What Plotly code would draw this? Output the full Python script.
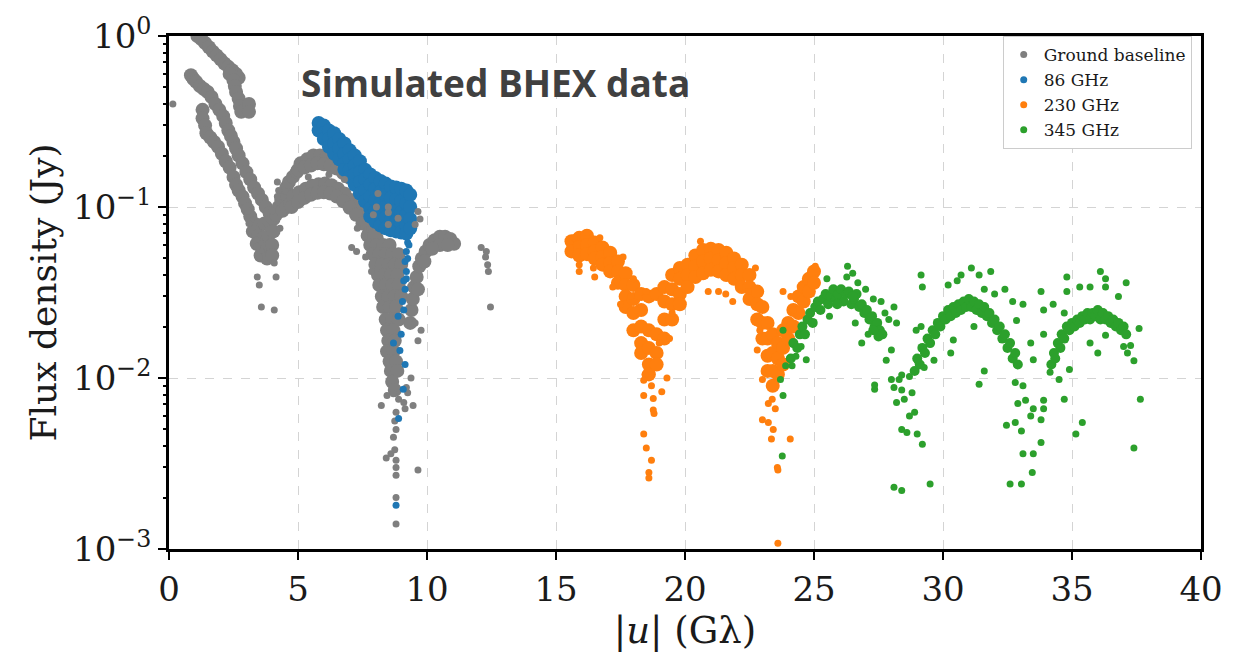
import plotly.graph_objects as go

# ---------------- data (|u| in Gλ, flux density in Jy) ----------------
ground_dense = [
    # upper branch
    (1.1, 1.0), (1.25, 0.96), (1.4, 0.91), (1.55, 0.86), (1.7, 0.81), (1.85, 0.77), (2.0, 0.73),
    (2.15, 0.69), (2.3, 0.66), (2.45, 0.63), (2.6, 0.6), (2.7, 0.57), (2.35, 0.6), (2.5, 0.55),
    (2.55, 0.51), (2.6, 0.47), (2.7, 0.43), (2.75, 0.39), (2.8, 0.36), (3.1, 0.4), (3.1, 0.36),
    # middle branch
    (0.85, 0.59), (0.95, 0.56), (1.05, 0.54), (1.2, 0.51), (1.35, 0.49), (1.5, 0.47), (1.65, 0.44),
    (1.8, 0.4), (1.95, 0.37), (2.1, 0.34), (2.2, 0.31), (2.3, 0.28), (2.4, 0.26), (2.5, 0.24),
    (2.6, 0.22), (2.7, 0.2), (2.85, 0.18), (3.0, 0.16), (3.15, 0.145), (3.3, 0.13), (3.45, 0.12),
    (3.6, 0.11), (3.75, 0.1), (3.9, 0.092),
    # lower branch
    (1.3, 0.37), (1.3, 0.33), (1.4, 0.3), (1.45, 0.27), (1.6, 0.255), (1.75, 0.24), (1.9, 0.225),
    (2.05, 0.205), (2.2, 0.185), (2.35, 0.17), (2.5, 0.15), (2.6, 0.135), (2.7, 0.125),
    (2.85, 0.115), (2.95, 0.105), (3.05, 0.097),
    # first minimum
    (3.15, 0.088), (3.3, 0.08), (3.5, 0.078), (3.7, 0.08), (3.9, 0.082), (4.05, 0.085),
    (3.25, 0.072), (3.45, 0.068), (3.65, 0.066), (3.85, 0.068), (4.05, 0.072), (3.4, 0.061),
    (3.6, 0.058), (3.8, 0.057), (4.0, 0.06), (3.55, 0.052), (3.8, 0.05), (4.0, 0.052),
    # rising arm
    (4.15, 0.09), (4.25, 0.1), (4.35, 0.11), (4.45, 0.12), (4.55, 0.13), (4.65, 0.14), (4.8, 0.15),
    (4.95, 0.16), (4.4, 0.095), (4.55, 0.1), (4.7, 0.105),
    # second lobe, upper band
    (5.1, 0.18), (5.35, 0.19), (5.6, 0.2), (5.85, 0.2), (6.1, 0.195), (6.35, 0.19), (6.6, 0.18),
    (6.85, 0.17), (7.1, 0.158), (7.35, 0.145), (7.6, 0.13), (7.85, 0.115), (8.1, 0.1), (8.3, 0.088),
    (5.0, 0.165), (5.25, 0.17), (5.5, 0.175), (5.75, 0.18), (6.0, 0.178), (6.25, 0.174), (6.5, 0.168),
    (6.75, 0.158), (7.0, 0.148), (7.25, 0.135), (7.5, 0.122), (7.75, 0.108), (8.0, 0.094), (8.25, 0.08),
    # second lobe, lower band
    (4.8, 0.115), (5.05, 0.122), (5.3, 0.128), (5.55, 0.133), (5.8, 0.136), (6.05, 0.137), (6.3, 0.134),
    (6.55, 0.128), (6.8, 0.12), (7.05, 0.11), (7.3, 0.1), (7.55, 0.088), (7.8, 0.077), (8.05, 0.066),
    (4.75, 0.1), (5.0, 0.107), (5.25, 0.113), (5.5, 0.118), (5.75, 0.121), (6.0, 0.122), (6.25, 0.12),
    (6.5, 0.115), (6.75, 0.108), (7.0, 0.099), (7.25, 0.09), (7.5, 0.08), (7.75, 0.07), (8.0, 0.061),
    # second minimum
    (7.7, 0.068), (7.95, 0.068),
    (7.8, 0.06), (8.05, 0.06), (8.3, 0.06), (8.55, 0.06),
    (7.9, 0.053), (8.15, 0.053), (8.4, 0.053), (8.65, 0.053), (8.9, 0.053),
    (8.0, 0.046), (8.25, 0.046), (8.5, 0.046), (8.75, 0.046), (9.0, 0.046),
    (8.1, 0.04), (8.35, 0.04), (8.6, 0.04), (8.85, 0.04),
    (8.15, 0.035), (8.4, 0.035), (8.65, 0.035), (8.9, 0.035),
    (8.25, 0.03), (8.5, 0.03), (8.75, 0.03), (9.0, 0.03),
    (8.3, 0.026), (8.55, 0.026), (8.8, 0.026),
    (8.4, 0.022), (8.65, 0.022), (8.9, 0.022),
    (8.45, 0.019), (8.7, 0.019), (8.5, 0.0165), (8.75, 0.0165), (8.45, 0.0143), (8.7, 0.0143),
    (8.55, 0.0125), (8.8, 0.0125), (8.6, 0.011), (8.85, 0.011), (8.65, 0.0095), (8.75, 0.0085),
    # third lobe start
    (9.35, 0.021), (9.4, 0.025), (9.45, 0.029), (9.5, 0.034), (9.6, 0.039), (9.7, 0.045), (9.8, 0.05),
    (9.95, 0.055), (10.1, 0.06), (10.3, 0.064), (10.5, 0.067), (10.7, 0.067), (10.9, 0.065),
    (11.05, 0.061), (10.5, 0.06), (10.8, 0.06), (10.2, 0.057), (9.9, 0.048), (9.65, 0.033),
]

ground_sparse = [
    (0.15, 0.4),
    (3.4, 0.059), (3.5, 0.051), (3.42, 0.039), (3.5, 0.035), (4.15, 0.039), (4.08, 0.047),
    (3.58, 0.026), (4.08, 0.025), (3.05, 0.095), (3.1, 0.08),
    (4.2, 0.14), (4.25, 0.125), (4.2, 0.115), (4.0, 0.095), (4.3, 0.075),
    (5.4, 0.15), (6.2, 0.155), (6.8, 0.145), (7.3, 0.075),
    (8.1, 0.12), (8.04, 0.1), (8.5, 0.1), (8.88, 0.086), (8.5, 0.079), (7.92, 0.09), (8.5, 0.093),
    (7.08, 0.058), (7.27, 0.055), (7.62, 0.051), (7.85, 0.042),
    (9.65, 0.094), (9.73, 0.085), (9.54, 0.079),
    (9.77, 0.019), (9.65, 0.0165), (9.54, 0.021), (9.38, 0.01), (9.46, 0.0069), (9.65, 0.0029),
    (8.23, 0.0069), (8.42, 0.0034),
    (8.45, 0.0079), (8.7, 0.0081), (8.9, 0.0075), (8.8, 0.0063), (8.75, 0.0056), (8.8, 0.005),
    (8.7, 0.0045), (8.75, 0.0038), (8.6, 0.0036), (8.8, 0.0033), (8.8, 0.003), (8.8, 0.0027),
    (8.8, 0.002), (8.8, 0.0014), (9.1, 0.0072), (9.15, 0.0066), (9.2, 0.0088), (9.25, 0.0082),
    (12.1, 0.058), (12.27, 0.051), (12.35, 0.046), (12.38, 0.042), (12.3, 0.055), (12.46, 0.026),
]

bhex86_dense = [
    (5.8, 0.31), (5.8, 0.28),
    (6.0, 0.3), (6.0, 0.27), (6.0, 0.25),
    (6.2, 0.28), (6.2, 0.25), (6.2, 0.225),
    (6.4, 0.27), (6.4, 0.235), (6.4, 0.205),
    (6.6, 0.25), (6.6, 0.22), (6.6, 0.19),
    (6.8, 0.235), (6.8, 0.205), (6.8, 0.18), (6.8, 0.165),
    (7.0, 0.215), (7.0, 0.19), (7.0, 0.165), (7.0, 0.15),
    (7.2, 0.2), (7.2, 0.175), (7.2, 0.155), (7.2, 0.135),
    (7.4, 0.185), (7.4, 0.16), (7.4, 0.14), (7.4, 0.12),
    (7.6, 0.165), (7.6, 0.145), (7.6, 0.125), (7.6, 0.108),
    (7.8, 0.155), (7.8, 0.135), (7.8, 0.115), (7.8, 0.098), (7.8, 0.088),
    (8.0, 0.148), (8.0, 0.128), (8.0, 0.11), (8.0, 0.095), (8.0, 0.082),
    (8.2, 0.142), (8.2, 0.122), (8.2, 0.105), (8.2, 0.09), (8.2, 0.078),
    (8.4, 0.137), (8.4, 0.118), (8.4, 0.1), (8.4, 0.087), (8.4, 0.075),
    (8.6, 0.132), (8.6, 0.113), (8.6, 0.097), (8.6, 0.084), (8.6, 0.073),
    (8.8, 0.13), (8.8, 0.11), (8.8, 0.095), (8.8, 0.082), (8.8, 0.072),
    (9.0, 0.128), (9.0, 0.108), (9.0, 0.093), (9.0, 0.08), (9.0, 0.071),
    (9.2, 0.125), (9.2, 0.105), (9.2, 0.09), (9.2, 0.078), (9.2, 0.07),
    (9.35, 0.118), (9.35, 0.1), (9.35, 0.085), (9.35, 0.075),
]

bhex86_sparse = [
    (9.25, 0.062), (9.2, 0.055), (9.15, 0.048), (9.2, 0.042), (9.1, 0.037), (9.15, 0.033),
    (9.05, 0.028), (8.88, 0.023), (9.0, 0.018), (8.7, 0.016), (8.95, 0.0145), (9.15, 0.012),
    (9.08, 0.0086), (8.9, 0.0058), (8.8, 0.0018), (9.3, 0.06), (9.25, 0.05), (9.2, 0.038), (9.1, 0.025),
]

bhex230_dense = [
    (15.6, 0.063), (15.6, 0.055),
    (15.9, 0.066), (15.9, 0.058), (15.9, 0.052),
    (16.2, 0.068), (16.2, 0.06), (16.2, 0.053),
    (16.5, 0.062), (16.5, 0.055), (16.5, 0.05),
    (16.8, 0.058), (16.8, 0.051), (16.8, 0.046),
    (17.1, 0.054), (17.1, 0.047), (17.1, 0.042),
    (17.4, 0.048), (17.4, 0.042), (17.4, 0.036),
    (17.7, 0.041), (17.7, 0.035), (17.7, 0.03), (17.7, 0.026),
    (18.0, 0.035), (18.0, 0.029), (18.0, 0.024), (18.0, 0.019),
    (18.3, 0.031), (18.3, 0.025), (18.3, 0.02), (18.3, 0.016), (18.3, 0.014),
    (18.6, 0.03), (18.6, 0.019), (18.6, 0.015), (18.6, 0.012), (18.6, 0.0105),
    (18.9, 0.031), (18.9, 0.018), (18.9, 0.014), (18.9, 0.012),
    (19.2, 0.034), (19.2, 0.028), (19.2, 0.022), (19.2, 0.017),
    (19.5, 0.04), (19.5, 0.033), (19.5, 0.027), (19.5, 0.022),
    (19.8, 0.044), (19.8, 0.038), (19.8, 0.031), (19.8, 0.027),
    (20.1, 0.046), (20.1, 0.04), (20.1, 0.034),
    (20.4, 0.052), (20.4, 0.045), (20.4, 0.039),
    (20.7, 0.056), (20.7, 0.048), (20.7, 0.041),
    (21.0, 0.057), (21.0, 0.05), (21.0, 0.043),
    (21.3, 0.056), (21.3, 0.049), (21.3, 0.042),
    (21.6, 0.054), (21.6, 0.047), (21.6, 0.04),
    (21.9, 0.05), (21.9, 0.044), (21.9, 0.038),
    (22.2, 0.046), (22.2, 0.04), (22.2, 0.034),
    (22.5, 0.04), (22.5, 0.034), (22.5, 0.029),
    (22.8, 0.032), (22.8, 0.027), (22.8, 0.022),
    (23.0, 0.026), (23.0, 0.021), (23.0, 0.017),
    (23.2, 0.021), (23.2, 0.017), (23.2, 0.0135), (23.2, 0.011),
    (23.4, 0.018), (23.4, 0.014), (23.4, 0.011), (23.4, 0.009),
    (23.6, 0.016), (23.6, 0.013), (23.6, 0.0105),
    (23.8, 0.019), (23.8, 0.015), (23.8, 0.012),
    (24.0, 0.021), (24.0, 0.017),
    (24.2, 0.025), (24.2, 0.02),
    (24.4, 0.03), (24.4, 0.024),
    (24.6, 0.034), (24.6, 0.028),
    (24.8, 0.038), (24.8, 0.032),
    (25.0, 0.042), (25.0, 0.036),
]

bhex230_sparse = [
    (15.55, 0.058), (15.7, 0.066), (16.2, 0.071), (16.7, 0.066), (15.9, 0.046), (15.9, 0.042),
    (16.45, 0.044), (16.5, 0.039), (17.6, 0.051), (18.0, 0.038), (18.5, 0.032), (19.5, 0.024),
    (17.9, 0.03), (18.1, 0.025), (18.45, 0.0105), (18.7, 0.009), (19.0, 0.016), (19.4, 0.017),
    (17.5, 0.027), (17.2, 0.034),
    (18.4, 0.0097), (19.3, 0.01), (19.1, 0.0083), (18.4, 0.0079), (18.77, 0.0076), (18.77, 0.0065),
    (18.8, 0.0062), (18.4, 0.0047), (18.5, 0.0039), (18.7, 0.0033), (18.6, 0.0028), (18.6, 0.0026),
    (20.6, 0.063), (22.73, 0.044), (22.46, 0.032), (20.9, 0.032), (21.3, 0.032), (21.58, 0.031),
    (21.85, 0.028), (22.9, 0.019), (22.8, 0.0146), (23.0, 0.0098), (23.38, 0.0075), (23.23, 0.0071),
    (23.5, 0.0066), (23.0, 0.0057), (23.23, 0.0055), (23.42, 0.005), (23.35, 0.0044), (24.08, 0.0044),
    (23.58, 0.003), (23.6, 0.0029), (23.6, 0.00108),
    (23.8, 0.032), (24.1, 0.03), (24.2, 0.025), (25.05, 0.045),
]

bhex345_dense = [
    # first lobe
    (24.1, 0.013), (24.2, 0.016), (24.35, 0.015), (24.45, 0.018), (24.55, 0.02), (24.65, 0.018),
    (24.75, 0.022), (24.85, 0.024), (24.95, 0.021), (25.05, 0.026), (25.15, 0.028), (25.25, 0.025),
    (25.35, 0.029), (25.45, 0.031), (25.55, 0.027), (25.65, 0.03), (25.75, 0.033), (25.85, 0.029),
    (25.95, 0.031), (26.05, 0.033), (26.15, 0.028), (26.25, 0.031), (26.35, 0.032), (26.45, 0.027),
    (26.55, 0.029), (26.65, 0.031), (26.75, 0.026), (26.85, 0.027), (26.95, 0.024), (27.05, 0.025),
    (27.15, 0.022), (27.25, 0.023), (27.35, 0.02), (27.45, 0.021), (27.55, 0.019), (27.65, 0.018),
    (27.5, 0.0175), (27.3, 0.019), (25.9, 0.027), (26.5, 0.03),
    # second lobe
    (28.9, 0.011), (29.0, 0.013), (29.1, 0.012), (29.2, 0.015), (29.3, 0.014), (29.4, 0.017),
    (29.5, 0.016), (29.6, 0.019), (29.7, 0.018), (29.8, 0.021), (29.9, 0.02), (30.0, 0.023),
    (30.1, 0.022), (30.2, 0.025), (30.3, 0.023), (30.4, 0.026), (30.5, 0.024), (30.6, 0.027),
    (30.7, 0.025), (30.8, 0.028), (30.9, 0.026), (31.0, 0.029), (31.1, 0.026), (31.2, 0.028),
    (31.3, 0.025), (31.4, 0.027), (31.5, 0.024), (31.6, 0.026), (31.7, 0.023), (31.8, 0.024),
    (31.9, 0.021), (32.0, 0.022), (32.1, 0.019), (32.2, 0.02), (32.3, 0.017), (32.4, 0.018),
    (32.5, 0.015), (32.6, 0.016), (32.7, 0.013), (32.8, 0.014), (32.9, 0.012),
    # third lobe
    (34.2, 0.012), (34.3, 0.014), (34.35, 0.013), (34.45, 0.016), (34.55, 0.015), (34.6, 0.018),
    (34.7, 0.017), (34.8, 0.02), (34.9, 0.019), (35.0, 0.021), (35.1, 0.02), (35.2, 0.022),
    (35.3, 0.021), (35.4, 0.023), (35.5, 0.022), (35.6, 0.024), (35.7, 0.022), (35.8, 0.024),
    (35.9, 0.023), (36.0, 0.025), (36.1, 0.022), (36.2, 0.024), (36.3, 0.022), (36.4, 0.023),
    (36.5, 0.021), (36.6, 0.022), (36.7, 0.02), (36.8, 0.021), (36.9, 0.019), (37.0, 0.02), (37.1, 0.018),
]

bhex345_sparse = [
    (23.8, 0.019), (23.7, 0.0098), (23.8, 0.0079), (23.77, 0.0035), (24.15, 0.0118), (23.9, 0.0118),
    (24.5, 0.0153), (24.7, 0.0128), (24.3, 0.0134),
    (25.5, 0.038), (25.6, 0.023), (26.85, 0.016), (27.35, 0.0086), (26.3, 0.045), (26.5, 0.041),
    (26.27, 0.039), (26.7, 0.036), (27.0, 0.033), (27.3, 0.029), (27.75, 0.024), (27.9, 0.022),
    (27.1, 0.018), (26.6, 0.021), (27.6, 0.028), (27.35, 0.0091),
    (28.1, 0.026), (28.2, 0.021), (28.0, 0.0146), (27.8, 0.0127), (28.0, 0.0098), (28.3, 0.0098),
    (28.4, 0.0104), (28.7, 0.0102), (28.1, 0.0088), (28.4, 0.0085), (28.8, 0.0082), (28.2, 0.0072),
    (28.5, 0.0075), (28.9, 0.0063), (28.7, 0.006), (28.4, 0.005), (28.6, 0.0048), (29.0, 0.0047),
    (29.2, 0.0041), (28.1, 0.0023), (28.4, 0.0022), (29.5, 0.0024),
    (29.15, 0.04), (29.2, 0.034), (29.15, 0.02), (28.96, 0.019), (29.27, 0.0115), (29.0, 0.0126),
    (29.65, 0.0127), (30.3, 0.014), (30.4, 0.0167),
    (31.1, 0.044), (30.7, 0.04), (31.4, 0.04), (31.85, 0.042), (30.2, 0.035), (30.55, 0.037),
    (31.6, 0.033), (32.0, 0.031), (31.2, 0.02), (31.6, 0.011), (31.4, 0.0092),
    (32.4, 0.033), (32.7, 0.028), (33.1, 0.027), (32.85, 0.0217), (33.4, 0.016), (33.8, 0.032),
    (33.9, 0.025), (33.9, 0.018), (33.5, 0.0128),
    (32.8, 0.0094), (33.1, 0.009), (33.2, 0.0074), (32.9, 0.0071), (33.5, 0.0066), (33.4, 0.006),
    (33.9, 0.0066), (33.8, 0.0057), (32.46, 0.0053), (32.8, 0.0055), (33.04, 0.0049), (33.9, 0.0074),
    (33.8, 0.0042), (33.1, 0.0036), (33.5, 0.0036), (33.46, 0.0028), (33.04, 0.0024), (32.6, 0.0024),
    (34.15, 0.0108), (34.5, 0.0098), (34.7, 0.0075), (34.27, 0.027), (34.7, 0.024), (34.8, 0.039),
    (34.8, 0.032), (35.3, 0.034), (35.7, 0.034), (36.1, 0.042), (36.3, 0.038), (36.3, 0.034),
    (36.8, 0.03), (37.1, 0.036), (35.15, 0.0047), (35.4, 0.0055), (34.9, 0.0112), (36.0, 0.014),
    (35.7, 0.016), (36.3, 0.0178), (37.0, 0.0153), (37.15, 0.014), (37.4, 0.0126), (37.27, 0.0155),
    (37.6, 0.0195), (37.65, 0.0075), (37.4, 0.0039),
]

x_ticks = [0, 5, 10, 15, 20, 25, 30, 35, 40]
y_ticks = [0.001, 0.01, 0.1, 1]
y_tick_text = ["10<sup>−3</sup>", "10<sup>−2</sup>", "10<sup>−1</sup>", "10<sup>0</sup>"]
y_minor = [m * d for d in (0.001, 0.01, 0.1) for m in range(2, 10)]

GRAY, BLUE, ORANGE, GREEN = "#7f7f7f", "#1f77b4", "#ff7f0e", "#2ca02c"
SERIF = "DejaVu Serif"
TXT = "#1a1a1a"


def scatter(points, color, size, name, show, rank):
    xs = [p[0] for p in points]
    ys = [p[1] for p in points]
    return go.Scatter(x=xs, y=ys, mode="markers", name=name, showlegend=show, legendrank=rank,
                      marker=dict(color=color, size=size, line=dict(width=0)), hoverinfo="skip")


fig = go.Figure()
fig.add_trace(scatter(ground_dense, GRAY, 14, "Ground baseline", False, 1))
fig.add_trace(scatter(bhex86_dense, BLUE, 14, "86 GHz", False, 2))
fig.add_trace(scatter(ground_sparse, GRAY, 7, "Ground baseline", True, 1))
fig.add_trace(scatter(bhex86_sparse, BLUE, 7, "86 GHz", True, 2))
fig.add_trace(scatter(bhex230_dense, ORANGE, 14, "230 GHz", False, 3))
fig.add_trace(scatter(bhex230_sparse, ORANGE, 7, "230 GHz", True, 3))
fig.add_trace(scatter(bhex345_dense, GREEN, 10, "345 GHz", False, 4))
fig.add_trace(scatter(bhex345_sparse, GREEN, 7, "345 GHz", True, 4))
fig.add_trace(go.Scatter(x=[], y=[], yaxis="y2", showlegend=False))

fig.update_layout(
    width=1235, height=657,
    margin=dict(l=169, r=26, t=28, b=108),
    paper_bgcolor="white", plot_bgcolor="white",
    font=dict(family=SERIF, color="black"),
    xaxis=dict(
        range=[0, 40], tickmode="array", tickvals=x_ticks,
        ticks="outside", ticklen=8, tickwidth=2, tickcolor="black",
        showline=True, linewidth=2.5, linecolor="black", mirror=True,
        showgrid=True, gridcolor="#d4d4d4", gridwidth=1, griddash="dash", zeroline=False,
        tickfont=dict(family=SERIF, size=34, color=TXT),
        title=dict(text="|<i>u</i>| (Gλ)", font=dict(family=SERIF, size=37, color=TXT), standoff=6),
    ),
    yaxis=dict(
        type="log", range=[-3, 0], tickmode="array", tickvals=y_ticks, ticktext=y_tick_text,
        ticks="outside", ticklen=8, tickwidth=2, tickcolor="black",
        showline=True, linewidth=2.5, linecolor="black", mirror=True,
        showgrid=True, gridcolor="#d4d4d4", gridwidth=1, griddash="dash", zeroline=False,
        tickfont=dict(family=SERIF, size=34, color=TXT),
        title=dict(text="Flux density (Jy)", font=dict(family=SERIF, size=36, color=TXT), standoff=6),
    ),
    yaxis2=dict(
        type="log", range=[-3, 0], overlaying="y", anchor="x", side="left",
        tickmode="array", tickvals=y_minor, ticks="outside", ticklen=5, tickwidth=1.5, tickcolor="black",
        showticklabels=False, showgrid=False, showline=False, zeroline=False,
    ),
    legend=dict(
        x=0.991, y=1.0, xanchor="right", yanchor="top",
        bgcolor="white", bordercolor="#cccccc", borderwidth=1,
        font=dict(family=SERIF, size=17, color=TXT),
        tracegroupgap=0, itemsizing="trace",
    ),
    annotations=[dict(
        text="<b>Simulated BHEX data</b>", xref="paper", yref="paper",
        x=0.126, y=0.91, xanchor="left", yanchor="middle", showarrow=False,
        font=dict(family="Open Sans", size=37, color="#404040"),
    )],
)

fig.write_html("out.html")
